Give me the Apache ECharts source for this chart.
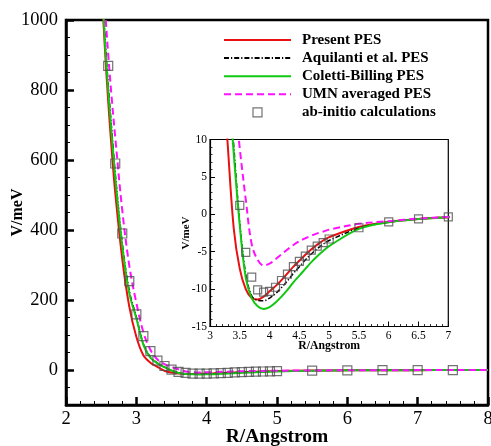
<!DOCTYPE html>
<html><head><meta charset="utf-8">
<script src="https://cdn.jsdelivr.net/npm/echarts@6/dist/echarts.min.js"></script>
<style>html,body{margin:0;padding:0;background:#fff}#c{width:491px;height:446px}</style>
</head><body><div id="c"></div>
<script>
// distance grid (Angstrom) shared by the four PES curves
const R = [2.5, 2.55, 2.6, 2.65, 2.7, 2.8, 2.9, 3.0, 3.1, 3.2, 3.3, 3.4, 3.5, 3.6, 3.7, 3.8, 3.9, 4.0, 4.1, 4.2, 4.3, 4.4, 4.5, 4.6, 4.7, 4.8, 4.9, 5.0, 5.5, 6.0, 6.5, 7.0, 7.5, 8.0];
const presentPES = [1120, 930, 768, 629, 507, 317, 181, 95, 42, 21, 9, -2.0, -7.3, -10.0, -11.2, -11.4, -11.0, -10.3, -9.6, -8.8, -7.9, -7.0, -6.2, -5.4, -4.7, -4.05, -3.5, -3.05, -1.7, -1.0, -0.62, -0.38, -0.25, -0.17];
const aquilantiPES = [1200, 970, 815, 686, 562, 362, 226, 152, 75, 37, 20, 9, -1.2, -8.0, -10.9, -11.5, -11.55, -11.2, -10.6, -9.8, -8.9, -7.9, -7.0, -6.1, -5.3, -4.6, -4.0, -3.5, -1.85, -1.05, -0.63, -0.38, -0.25, -0.17];
const colettiPES = [1180, 950, 800, 672, 550, 354, 219, 148, 72, 35, 19, 8, -1.5, -8.5, -11.2, -12.3, -12.65, -12.4, -11.8, -11.0, -10.1, -9.1, -8.2, -7.3, -6.4, -5.6, -4.9, -4.25, -1.95, -1.05, -0.63, -0.38, -0.25, -0.17];
const umnPES = [1220, 1048, 902, 776, 665, 456, 298, 192, 108, 58, 30, 17, 8.8, 2.0, -4.0, -6.1, -6.85, -6.6, -6.0, -5.35, -4.7, -4.1, -3.6, -3.2, -2.85, -2.55, -2.3, -2.05, -1.27, -0.92, -0.57, -0.35, -0.22, -0.15];
// ab-initio points
const abR = [2.6, 2.7, 2.8, 2.9, 3.0, 3.1, 3.2, 3.3, 3.4, 3.5, 3.6, 3.7, 3.8, 3.9, 4.0, 4.1, 4.2, 4.3, 4.4, 4.5, 4.6, 4.7, 4.8, 4.9, 5.0, 5.5, 6.0, 6.5, 7.0, 7.5];
const abV = [869, 590, 390, 254, 159, 97, 54, 27, 11.5, 1.2, -5.1, -8.4, -10.1, -10.4, -10.3, -9.75, -8.85, -8.0, -7.0, -6.3, -5.6, -4.8, -4.25, -3.8, -3.3, -1.8, -1.0, -0.6, -0.35, -0.2];
const names = ['Present PES', 'Aquilanti et al. PES', 'Coletti-Billing PES', 'UMN averaged PES', 'ab-initio calculations'];
const mainYTicks = [0, 200, 400, 600, 800, 1000];

const F = 'Liberation Serif';
const pair = (xs, ys) => xs.map((x, i) => [x, ys[i]]);
const curves = [presentPES, aquilantiPES, colettiPES, umnPES];
const styles = [
  {color: '#e81010', width: 2, type: 'solid'},
  {color: '#000000', width: 1.5, type: [5, 2, 1.2, 2]},
  {color: '#10c810', width: 2, type: 'solid'},
  {color: '#ff10ff', width: 2, type: [7, 4]}
];
const series = [];
[0, 1].forEach(g => {
  curves.forEach((c, k) => {
    series.push({
      name: names[k], type: 'line', xAxisIndex: g, yAxisIndex: g === 0 ? 0 : 2,
      data: pair(R, c), smooth: 0.35, symbol: 'none', clip: true,
      lineStyle: styles[k], itemStyle: {color: styles[k].color}, z: 3
    });
  });
  series.push({
    name: names[4], type: 'scatter', xAxisIndex: g, yAxisIndex: g === 0 ? 0 : 2,
    data: pair(abR, abV), symbol: 'rect', symbolSize: g === 0 ? 9 : 8, clip: true,
    itemStyle: {color: 'rgba(0,0,0,0)', borderColor: '#505050', borderWidth: 1.2}, z: 4
  });
});

const legendData = names.map((n, i) => i < 4
  ? {name: n, itemStyle: {opacity: 0}}
  : {name: n, icon: 'path://M0,0H10V10H0Z', itemStyle: {color: 'rgba(0,0,0,0)', borderColor: '#505050', borderWidth: 1.2}});

const chart = echarts.init(document.getElementById('c'));
chart.setOption({
  animation: false,
  backgroundColor: '#fff',
  grid: [
    {left: 66, top: 20, right: 3, bottom: 41, show: true, borderColor: '#000', borderWidth: 2.5, backgroundColor: 'rgba(0,0,0,0)', outerBoundsMode: 'none', containLabel: false},
    {left: 210, top: 139.5, right: 42.7, bottom: 119.5, show: true, borderColor: '#000', borderWidth: 1.2, backgroundColor: '#fff', outerBoundsMode: 'none', containLabel: false}
  ],
  legend: {
    orient: 'vertical', left: 223, top: 32.5, padding: 0,
    itemWidth: 67, itemHeight: 9, itemGap: 3.1, symbolKeepAspect: true,
    textStyle: {fontFamily: F, fontWeight: 'bold', fontSize: 15, lineHeight: 15, color: '#000', padding: [0, 0, 0, 6]},
    data: legendData
  },
  xAxis: [
    {gridIndex: 0, type: 'value', min: 2, max: 8, interval: 1,
     axisLine: {onZero: false, lineStyle: {color: '#000', width: 2.5}},
     axisTick: {inside: true, length: 8, lineStyle: {color: '#000', width: 2.5}},
     minorTick: {show: true, splitNumber: 5, length: 4, lineStyle: {color: '#000', width: 1}},
     axisLabel: {color: '#000', fontFamily: F, fontSize: 18.5, margin: 5},
     splitLine: {show: false},
     name: 'R/Angstrom', nameLocation: 'middle', nameGap: 22, nameMoveOverlap: false,
     nameTextStyle: {fontFamily: F, fontWeight: 'bold', fontSize: 19.5, color: '#000'}},
    {gridIndex: 1, type: 'value', min: 3, max: 7, interval: 0.5,
     axisLine: {onZero: false, lineStyle: {color: '#000', width: 1.2}},
     axisTick: {inside: true, length: 5, lineStyle: {color: '#000', width: 1}},
     minorTick: {show: true, splitNumber: 5, length: 2.5, lineStyle: {color: '#000', width: 0.8}},
     axisLabel: {color: '#000', fontFamily: F, fontSize: 11.5, margin: 3},
     splitLine: {show: false},
     name: 'R/Angstrom', nameLocation: 'middle', nameGap: 13.5, nameMoveOverlap: false,
     nameTextStyle: {fontFamily: F, fontWeight: 'bold', fontSize: 11.75, color: '#000'}}
  ],
  yAxis: [
    {gridIndex: 0, type: 'value', min: -100, max: 1000, position: 'left',
     axisLine: {onZero: false, lineStyle: {color: '#000', width: 2.5}},
     axisTick: {inside: true, length: 8, customValues: mainYTicks, lineStyle: {color: '#000', width: 2.5}},
     axisLabel: {color: '#000', fontFamily: F, fontSize: 18.5, margin: 8, customValues: mainYTicks, formatter: v => String(v)},
     splitLine: {show: false},
     name: 'V/meV', nameLocation: 'middle', nameGap: 40, nameMoveOverlap: false,
     nameTextStyle: {fontFamily: F, fontWeight: 'bold', fontSize: 16, color: '#000'}},
    {gridIndex: 0, type: 'value', min: -100, max: 1000, interval: 50, position: 'left', offset: 0,
     axisLine: {show: false, onZero: false},
     axisTick: {inside: true, length: 4, lineStyle: {color: '#000', width: 1}},
     axisLabel: {show: false}, splitLine: {show: false}},
    {gridIndex: 1, type: 'value', min: -15, max: 10, interval: 5,
     axisLine: {onZero: false, lineStyle: {color: '#000', width: 1.2}},
     axisTick: {inside: true, length: 5, lineStyle: {color: '#000', width: 1}},
     minorTick: {show: true, splitNumber: 5, length: 2.5, lineStyle: {color: '#000', width: 0.8}},
     axisLabel: {color: '#000', fontFamily: F, fontSize: 11.5, margin: 3},
     splitLine: {show: false},
     name: 'V/meV', nameLocation: 'middle', nameGap: 18, nameMoveOverlap: false,
     nameTextStyle: {fontFamily: F, fontWeight: 'bold', fontSize: 11, color: '#000'}}
  ],
  series: series
});
</script>
</body></html>
